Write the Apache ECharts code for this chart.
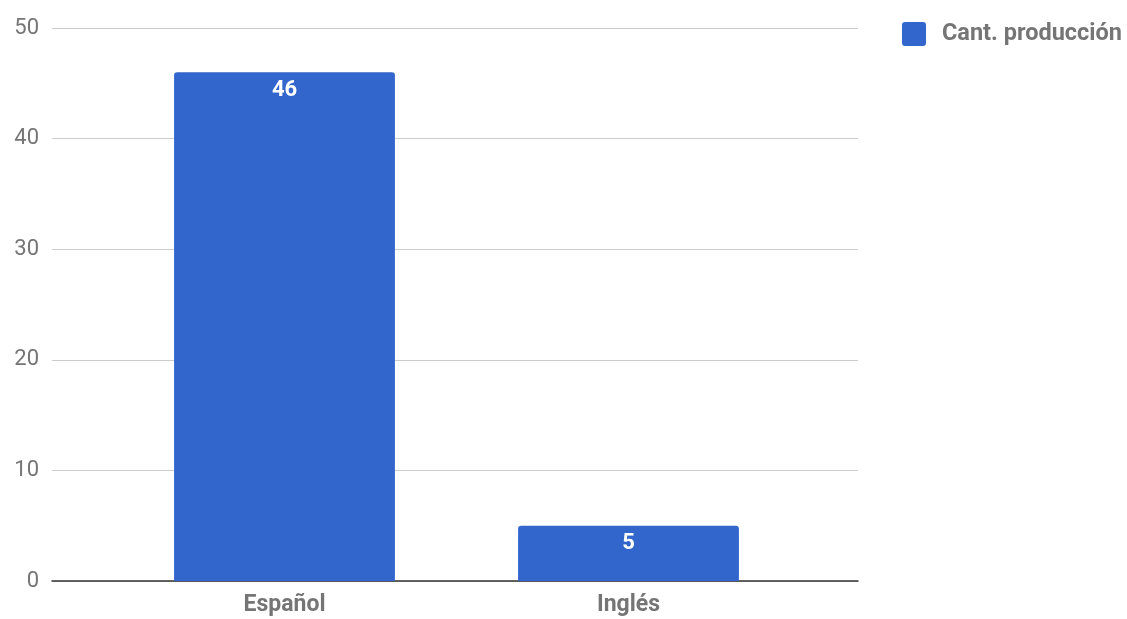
<!DOCTYPE html>
<html>
<head>
<meta charset="utf-8">
<script src="https://cdn.jsdelivr.net/npm/echarts@6/dist/echarts.min.js"></script>
<style>html,body{margin:0;padding:0;background:#fff}#c{width:1127px;height:619px}</style>
</head>
<body>
<div id="c"></div>
<script>
const categories = ['Español', 'Inglés'];
const seriesName = 'Cant. producción';
const values = [46, 5];
const yTicks = [0, 10, 20, 30, 40, 50];

const yMin = yTicks[0], yMax = yTicks[yTicks.length - 1];
const chart = echarts.init(document.getElementById('c'), null, {renderer: 'canvas'});
chart.setOption({
  animation: false,
  textStyle: {fontFamily: 'Roboto'},
  grid: [
    {left: 52, right: 269, top: 28, bottom: 38, containLabel: false},
    {left: 112.5, right: 326.5, top: 28, bottom: 38, containLabel: false}
  ],
  legend: {
    right: 0, top: 17,
    itemWidth: 24, itemHeight: 24,
    icon: 'path://M3,0 L21,0 Q24,0 24,3 L24,21 Q24,24 21,24 L3,24 Q0,24 0,21 L0,3 Q0,0 3,0 Z',
    textStyle: {fontFamily: 'Roboto', fontSize: 23.5, fontWeight: 'bold', color: '#757575', padding: [0, 0, 0, 11]},
    data: [seriesName]
  },
  xAxis: [
    {
      gridIndex: 0, type: 'value', min: 0, max: 1,
      axisLine: {show: true, onZero: false, lineStyle: {color: '#333', width: 1.5}},
      axisTick: {show: false}, axisLabel: {show: false}, splitLine: {show: false}
    },
    {
      gridIndex: 1, type: 'category', data: categories,
      axisLine: {show: false}, axisTick: {show: false},
      axisLabel: {fontFamily: 'Roboto', fontSize: 23, fontWeight: 'bold', color: '#757575', margin: 13}
    }
  ],
  yAxis: [
    {
      gridIndex: 0, type: 'value', min: yMin, max: yMax, interval: 10,
      axisLine: {show: false}, axisTick: {show: false},
      splitLine: {lineStyle: {color: '#cccccc', width: 1}},
      axisLabel: {fontFamily: 'Roboto', fontSize: 22, color: '#757575', margin: 13}
    },
    {
      gridIndex: 1, type: 'value', min: yMin, max: yMax, interval: 10,
      axisLine: {show: false}, axisTick: {show: false},
      splitLine: {show: false}, axisLabel: {show: false}
    }
  ],
  series: [{
    name: seriesName,
    type: 'bar',
    xAxisIndex: 1, yAxisIndex: 1,
    data: values,
    barWidth: '64.2%',
    itemStyle: {color: '#3366cc', borderRadius: [3, 3, 0, 0]},
    label: {show: true, position: 'insideTop', distance: 7, color: '#ffffff', fontFamily: 'Roboto', fontSize: 22, fontWeight: 'bold'}
  }]
});
</script>
</body>
</html>
